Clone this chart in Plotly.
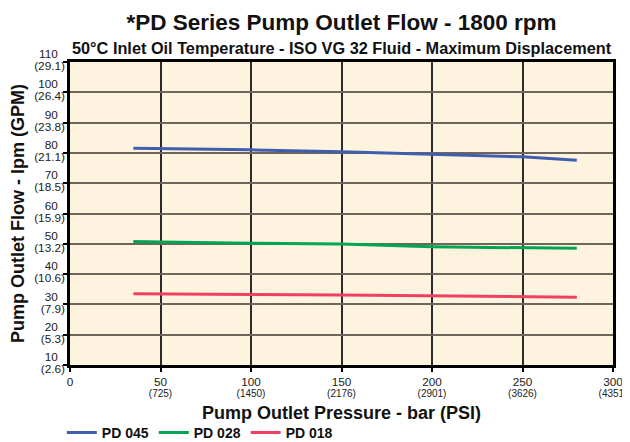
import plotly.graph_objects as go

pressure_bar = [35, 50, 100, 150, 200, 250, 280]
pd045 = [81.5, 81.4, 81.0, 80.4, 79.6, 78.7, 77.6]
pd028 = [50.8, 50.6, 50.2, 49.9, 49.0, 48.8, 48.5]
pd018 = [33.5, 33.4, 33.3, 33.1, 32.9, 32.7, 32.4]

series_names = ["PD 045", "PD 028", "PD 018"]
series_colors = ["#3f5fae", "#00a651", "#ef4062"]

x_tickvals = [0, 50, 100, 150, 200, 250, 300]
x_ticktext_bar = ["0", "50", "100", "150", "200", "250", "300"]
x_ticktext_psi = ["", "(725)", "(1450)", "(2176)", "(2901)", "(3626)", "(4351)"]
y_tickvals = [10, 20, 30, 40, 50, 60, 70, 80, 90, 100, 110]
y_ticktext_lpm = ["10", "20", "30", "40", "50", "60", "70", "80", "90", "100", "110"]
y_ticktext_gpm = ["(2.6)", "(5.3)", "(7.9)", "(10.6)", "(13.2)", "(15.9)", "(18.5)",
                  "(21.1)", "(23.8)", "(26.4)", "(29.1)"]

FONT = "Liberation Sans, Arial, Helvetica, sans-serif"
TICKFAMILY = "Liberation Sans Narrow, Arial Narrow, Liberation Sans, Arial"
TICKFONT = dict(family=TICKFAMILY, size=11.8, color="#222")
PSIFONT = dict(family=TICKFAMILY, size=10, color="#222")

fig = go.Figure()
for name, vals, col in zip(series_names, [pd045, pd028, pd018], series_colors):
    fig.add_trace(go.Scatter(x=pressure_bar, y=vals, mode="lines", name="<b>" + name + "</b>",
                             line=dict(color=col, width=3)))
# empty trace carrying the secondary (PSI / GPM) label axes
fig.add_trace(go.Scatter(x=[None], y=[None], xaxis="x2", yaxis="y2", showlegend=False,
                         hoverinfo="skip", mode="lines"))

fig.update_layout(
    width=630, height=442,
    margin=dict(l=62, r=25, t=54, b=85, autoexpand=False),
    paper_bgcolor="white",
    plot_bgcolor="#fef3df",
    font=dict(family=FONT, color="#111"),
    title=dict(text="<b>*PD Series Pump Outlet Flow - 1800 rpm</b>",
               x=0.5, xref="paper", xanchor="center",
               y=1 - 14 / 442, yref="container", yanchor="middle",
               font=dict(size=22.5, color="#111")),
    showlegend=True,
    legend=dict(orientation="h", x=-0.015, xanchor="left", y=-0.2244, yanchor="middle",
                font=dict(size=14, color="#111"), bgcolor="rgba(0,0,0,0)",
                tracegroupgap=0, traceorder="normal"),
    annotations=[dict(text="<b>50°C Inlet Oil Temperature - ISO VG 32 Fluid - Maximum Displacement</b>",
                      x=0.5, xref="paper", xanchor="center",
                      y=1 + 14 / 303, yref="paper", yanchor="middle",
                      showarrow=False, font=dict(size=16.3, color="#111"))],
    xaxis=dict(range=[0, 300], tickvals=x_tickvals, ticktext=x_ticktext_bar,
               showgrid=True, gridcolor="#2b2b2b", gridwidth=1.5,
               showline=True, linecolor="black", linewidth=2.5, mirror=True,
               ticks="outside", ticklen=4, tickwidth=2, tickcolor="black",
               tickfont=TICKFONT, zeroline=False, automargin=False,
               ticklabeloverflow="allow", ticklabelstandoff=0,
               title=dict(text="<b>Pump Outlet Pressure - bar (PSI)</b>",
                          font=dict(size=18, color="#111"), standoff=19)),
    xaxis2=dict(range=[0, 300], overlaying="x", anchor="y", side="bottom",
                tickvals=x_tickvals, ticktext=x_ticktext_psi,
                showgrid=False, showline=False, zeroline=False, ticks="",
                tickfont=PSIFONT, automargin=False,
                ticklabeloverflow="allow", ticklabelstandoff=21),
    yaxis=dict(range=[10, 110], tickvals=y_tickvals, ticktext=y_ticktext_lpm,
               showgrid=True, gridcolor="#6e655b", gridwidth=2,
               showline=True, linecolor="black", linewidth=2.5, mirror=True,
               ticks="outside", ticklen=4, tickwidth=2, tickcolor="black",
               tickfont=TICKFONT, zeroline=False, automargin=False,
               ticklabeloverflow="allow", ticklabelshift=-8, ticklabelstandoff=3,
               title=dict(text="<b>Pump Outlet Flow - lpm (GPM)</b>",
                          font=dict(size=18, color="#111"), standoff=17)),
    yaxis2=dict(range=[10, 110], overlaying="y", anchor="x", side="left",
                tickvals=y_tickvals, ticktext=y_ticktext_gpm,
                showgrid=False, showline=False, zeroline=False, ticks="",
                tickfont=TICKFONT, automargin=False,
                ticklabeloverflow="allow", ticklabelshift=4, ticklabelstandoff=4),
)

fig.write_html("out.html")
